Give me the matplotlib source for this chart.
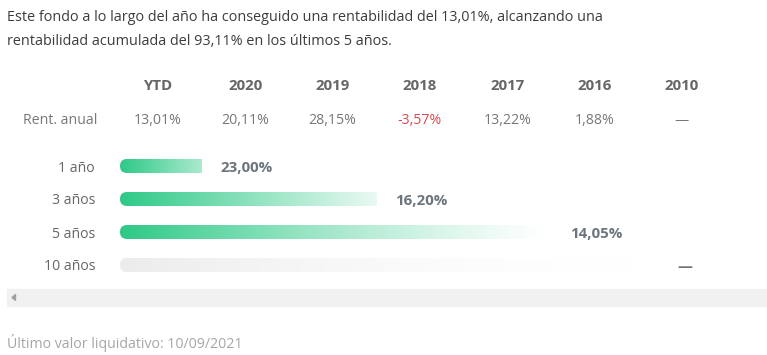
import matplotlib
matplotlib.use("Agg")
import matplotlib.pyplot as plt
import numpy as np
from matplotlib.patches import FancyBboxPatch, Rectangle, Polygon

W, H = 767, 355
DPI = 100

plt.rcParams["font.family"] = ["Open Sans", "DejaVu Sans"]

intro_lines = [
    "Este fondo a lo largo del año ha conseguido una rentabilidad del 13,01%, alcanzando una",
    "rentabilidad acumulada del 93,11% en los últimos 5 años.",
]
footer = "Último valor liquidativo: 10/09/2021"

periods = ["YTD", "2020", "2019", "2018", "2017", "2016", "2010"]
annual = [13.01, 20.11, 28.15, -3.57, 13.22, 1.88, None]
row_label = "Rent. anual"

horizons = ["1 año", "3 años", "5 años", "10 años"]
horizon_ret = [23.00, 16.20, 14.05, None]
bar_fill = [14.0, 43.9, 73.8, 92.0]   # longitud de cada barra, % de la pista


def fx(x):
    return x / W


def fy(y):
    return 1 - y / H


def fmt(v):
    return f"{v:.2f}".replace(".", ",") + "%"


fig = plt.figure(figsize=(W / DPI, H / DPI), dpi=DPI)

# texto introductorio
for k, line in enumerate(intro_lines):
    fig.text(fx(7), fy(17.5 + 24 * k), line, fontsize=10.35, color="#3c3c3c", va="center")

# tabla de rentabilidad anual
col0, step = 158, 87.33
for j, (p, v) in enumerate(zip(periods, annual)):
    x = fx(col0 + j * step)
    fig.text(x, fy(86.5), p, fontsize=10.8, fontweight="bold", color="#666666",
             ha="center", va="center")
    if v is None:
        txt, col = "—", "#777777"
    else:
        txt, col = fmt(v), ("#e0474c" if v < 0 else "#777777")
    fig.text(x, fy(120.5), txt, fontsize=10.2, color=col, ha="center", va="center")
fig.text(fx(23), fy(120.5), row_label, fontsize=10.2, color="#777777", va="center")

# barras de rentabilidad anualizada
ax = fig.add_axes([fx(120), fy(281.5), 585 / W, 132 / H])
ax.set_frame_on(False)
ax.set_xticks([])
ax.set_yticks(range(len(horizons)), horizons)
ax.tick_params(axis="y", length=0, pad=18, labelsize=10.1, labelcolor="#666666")

green = np.array([45, 201, 134]) / 255
gray = np.array([236, 236, 236]) / 255
end_alpha = [0.4, 0.1, 0.0, 0.0]
fade_pow = [1.0, 1.0, 1.25, 1.8]

ax_w_px = 585
px_per_x = ax_w_px / 100
px_per_y = 33
bh = 14 / px_per_y
r = 7 / px_per_x
asp = (1 / px_per_y) / (1 / px_per_x)

for i, (L, v) in enumerate(zip(bar_fill, horizon_ret)):
    base = green if v is not None else gray
    n = 256
    t = np.linspace(0, 1, n)
    img = np.zeros((1, n, 4))
    img[..., :3] = base
    img[..., 3] = end_alpha[i] + (1 - end_alpha[i]) * (1 - t) ** fade_pow[i]
    im = ax.imshow(img, extent=(0, L, i + bh / 2, i - bh / 2), aspect="auto",
                   interpolation="bilinear")
    clip = FancyBboxPatch((0, i - bh / 2), L + 4 * r, bh,
                          boxstyle=f"round,pad=0,rounding_size={r}",
                          mutation_aspect=asp, transform=ax.transData,
                          facecolor="none", edgecolor="none")
    im.set_clip_path(clip)
    txt = fmt(v) if v is not None else "—"
    ax.annotate(txt, (L, i), xytext=(13.5, -1.2), textcoords="offset points",
                ha="left", va="center", fontsize=10.8, fontweight="bold", color="#6c757d")

ax.set_xlim(0, 100)
ax.set_ylim(len(horizons) - 0.5, -0.5)

# barra de desplazamiento
fig.patches.append(Rectangle((fx(7), fy(306)), (W - 7) / W, 17 / H,
                             transform=fig.transFigure, color="#f1f1f1", zorder=0))
fig.patches.append(Polygon([(fx(12), fy(297.5)), (fx(15.5), fy(294.5)), (fx(15.5), fy(300.5))],
                           closed=True, transform=fig.transFigure, color="#a0a0a0"))

fig.text(fx(7), fy(343), footer, fontsize=10.2, color="#a6a6a6", va="center")

fig.savefig("out.png", dpi=DPI)
